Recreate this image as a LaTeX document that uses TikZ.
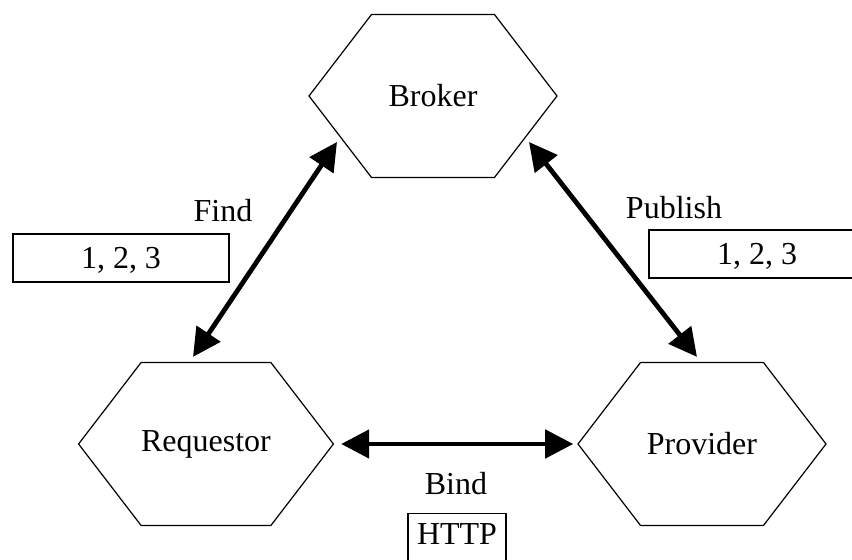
\documentclass[tikz,border=0pt]{standalone}
\usepackage{fontspec}
\setmainfont{Liberation Serif}
\usetikzlibrary{shapes.symbols,arrows.meta}

\begin{document}
\begin{tikzpicture}[
x=0.5pt, y=0.5pt,
font=\fontsize{16pt}{19pt}\selectfont,
role/.style={signal, signal to=west and east, signal pointer angle=105, draw, line width=0.6pt, minimum width=124pt, minimum height=81.5pt, inner sep=0pt},
numbox/.style={draw, line width=1pt, minimum width=108pt, minimum height=24pt, inner sep=0pt, text height=11pt, text depth=0pt},
link/.style={line width=2.4pt, {Triangle[length=14pt,width=14pt]}-{Triangle[length=14pt,width=14pt]}},
]
	\useasboundingbox (0,0) rectangle (852,560);
	\clip (0,0) rectangle (852,560);
	\node[role] (broker) at (433,464) {Broker};
	\node[role] (requestor) at (206,116) {Requestor};
	\node[role] (provider) at (702,116) {Provider};
	% labels
	\node (find) at (223,349) {Find};
	\node[numbox] (findbox) at (121,302) {1, 2, 3};
	\node (publish) at (674,352) {Publish};
	\node[numbox] (publishbox) at (757,306) {1, 2, 3};
	\node (bind) at (456,76) {Bind};
	\node[numbox, minimum width=49pt, text depth=4.5pt, line width=0.7pt, anchor=north] (httpbox) at (457,47) {HTTP};
	% links
	\draw[link] ([shift={(-13,5)}]requestor.north) -- ([shift={(-96,-46)}]broker.center);
	\draw[link] ([shift={(96,-46)}]broker.center) -- ([shift={(-5,5)}]provider.north);
	\draw[link] ([shift={(7,0)}]requestor.east) -- ([shift={(-4,0)}]provider.west);
\end{tikzpicture}
\end{document}
